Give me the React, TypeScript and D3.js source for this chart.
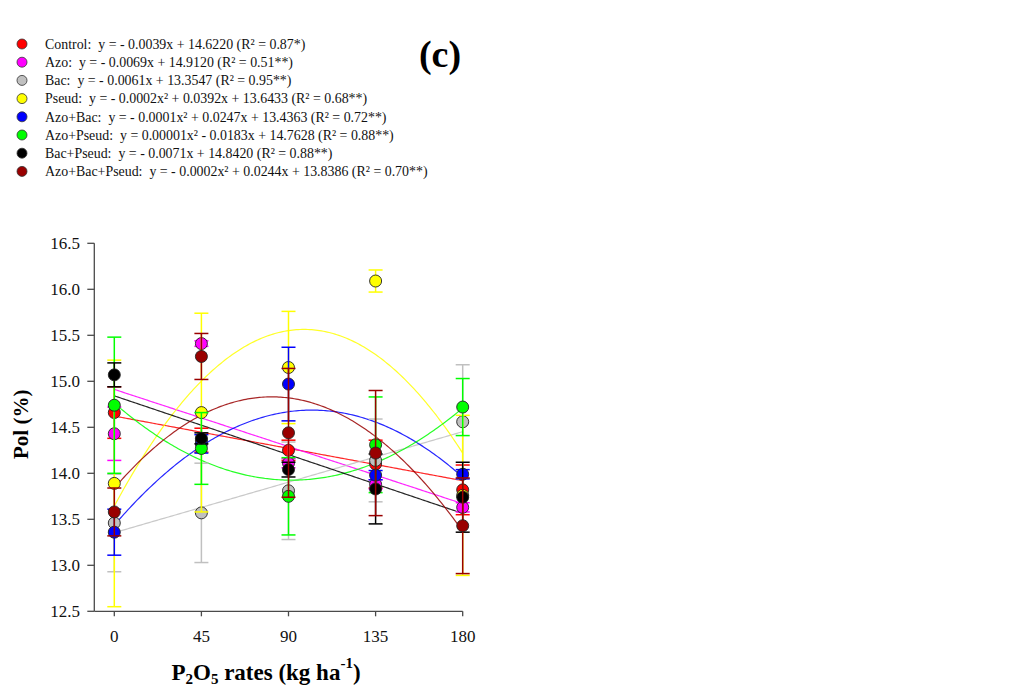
import React from "react";
import * as d3 from "d3";

const rates = [0, 45, 90, 135, 180];
const yTicks = [12.5, 13.0, 13.5, 14.0, 14.5, 15.0, 15.5, 16.0, 16.5];

const seriesNames = ["Control", "Azo", "Bac", "Pseud", "Azo+Bac", "Azo+Pseud", "Bac+Pseud", "Azo+Bac+Pseud"];
const seriesColors = ["#FF0000", "#FF00FF", "#C0C0C0", "#FFFF00", "#0000FF", "#00FF00", "#000000", "#990000"];
const legendEquations = [
  "y = - 0.0039x + 14.6220 (R² = 0.87*)",
  "y = - 0.0069x + 14.9120 (R² = 0.51**)",
  "y = - 0.0061x + 13.3547 (R² = 0.95**)",
  "y = - 0.0002x² + 0.0392x + 13.6433 (R² = 0.68**)",
  "y = - 0.0001x² + 0.0247x + 13.4363 (R² = 0.72**)",
  "y = 0.00001x² - 0.0183x + 14.7628 (R² = 0.88**)",
  "y = - 0.0071x + 14.8420 (R² = 0.88**)",
  "y = - 0.0002x² + 0.0244x + 13.8386 (R² = 0.70**)",
];

const meanControl = [14.66, 14.36, 14.25, 14.1, 13.82];
const meanAzo = [14.43, 15.41, 14.11, 13.88, 13.63];
const meanBac = [13.46, 13.57, 13.81, 14.14, 14.56];
const meanPseud = [13.89, 14.66, 15.15, 16.09, 13.76];
const meanAzoBac = [13.36, 14.32, 14.97, 13.98, 13.99];
const meanAzoPseud = [14.74, 14.27, 13.75, 14.31, 14.72];
const meanBacPseud = [15.07, 14.38, 14.04, 13.83, 13.74];
const meanAzoBacPseud = [13.58, 15.27, 14.44, 14.22, 13.43];

const errControl = [0.28, 0.13, 0.11, 0.26, 0.27];
const errAzo = [0.29, 0.03, 0.05, 0.05, 0.05];
const errBac = [0.53, 0.54, 0.53, 0.45, 0.62];
const errPseud = [1.34, 1.08, 0.61, 0.12, 0.87];
const errAzoBac = [0.25, 0.1, 0.4, 0.05, 0.05];
const errAzoPseud = [0.74, 0.39, 0.42, 0.52, 0.31];
const errBacPseud = [0.13, 0.06, 0.08, 0.38, 0.38];
const errAzoBacPseud = [0.26, 0.25, 0.7, 0.68, 0.52];

// fitted curve coefficients (y = a x² + b x + c) as drawn
const coefA = [0, 0, 0, -0.0002, -0.00012, 0.0001, 0, -0.00015];
const coefB = [-0.0039, -0.0069, 0.0061, 0.0392, 0.0245, -0.0183, -0.0071, 0.0244];
const coefC = [14.622, 14.912, 13.3547, 13.6433, 13.4363, 14.7628, 14.842, 13.8386];

const means = [meanControl, meanAzo, meanBac, meanPseud, meanAzoBac, meanAzoPseud, meanBacPseud, meanAzoBacPseud];
const errs = [errControl, errAzo, errBac, errPseud, errAzoBac, errAzoPseud, errBacPseud, errAzoBacPseud];

const FONT = "'Liberation Serif', 'Times New Roman', serif";

export default function App() {
  const x = d3.scaleLinear().domain([0, 180]).range([114.3, 462.7]);
  const y = d3.scaleLinear().domain([12.5, 16.5]).range([611.3, 243.3]);
  const axisX0 = 94.3;
  const axisColor = "#4a4a4a";
  const xs = d3.range(0, 180.5, 1);

  return (
    <svg
      width={1017}
      height={688}
      style={{ position: "absolute", left: 0, top: 0, background: "#fff" }}
      fontFamily={FONT}
    >
      {/* legend */}
      {seriesNames.map((name, i) => (
        <g key={name} transform={`translate(0, ${44 + i * 18.2})`}>
          <circle cx={22} cy={0} r={5} fill={seriesColors[i]} stroke="#333" strokeWidth={0.8} />
          <text x={45} y={4.7} fontSize={13.9} fill="#111" style={{ whiteSpace: "pre" }}>
            {`${name}:  ${legendEquations[i]}`}
          </text>
        </g>
      ))}
      <text x={440} y={67} fontSize={38} fontWeight="bold" textAnchor="middle" fill="#000">
        (c)
      </text>

      {/* axes */}
      <line x1={axisX0} x2={axisX0} y1={y(16.5)} y2={y(12.5)} stroke={axisColor} strokeWidth={1.3} />
      <line x1={axisX0} x2={x(180)} y1={y(12.5)} y2={y(12.5)} stroke={axisColor} strokeWidth={1.3} />
      {yTicks.map((t) => (
        <g key={t}>
          <line x1={axisX0 - 7} x2={axisX0} y1={y(t)} y2={y(t)} stroke={axisColor} strokeWidth={1.3} />
          <text x={80} y={y(t) + 6} fontSize={17} textAnchor="end" fill="#111">
            {t.toFixed(1)}
          </text>
        </g>
      ))}
      {rates.map((r) => (
        <g key={r}>
          <line x1={x(r)} x2={x(r)} y1={y(12.5)} y2={y(12.5) + 5} stroke={axisColor} strokeWidth={1.3} />
          <text x={x(r)} y={642} fontSize={17} textAnchor="middle" fill="#111">
            {r}
          </text>
        </g>
      ))}
      <text
        transform={`translate(28, ${y(14.5) - 3}) rotate(-90)`}
        fontSize={21}
        fontWeight="bold"
        textAnchor="middle"
        fill="#000"
      >
        Pol (%)
      </text>
      <text x={266} y={680} fontSize={23} fontWeight="bold" textAnchor="middle" fill="#000">
        P<tspan fontSize={15} dy={4}>2</tspan>
        <tspan dy={-4}>O</tspan>
        <tspan fontSize={15} dy={4}>5</tspan>
        <tspan dy={-4}> rates (kg ha</tspan>
        <tspan fontSize={15} dy={-12}>-1</tspan>
        <tspan dy={12}>)</tspan>
      </text>

      {/* regression curves */}
      {seriesNames.map((name, i) => {
        const path = d3
          .line<number>()
          .x((d) => x(d))
          .y((d) => y(coefA[i] * d * d + coefB[i] * d + coefC[i]))(xs);
        return (
          <path key={name} d={path || ""} fill="none" stroke={seriesColors[i]} strokeWidth={1.2} opacity={0.85} />
        );
      })}

      {/* error bars + points */}
      {seriesNames.map((name, i) => (
        <g key={name}>
          {rates.map((r, j) => {
            const m = means[i][j];
            const e = errs[i][j];
            const cx = x(r);
            return (
              <g key={r}>
                <line x1={cx} x2={cx} y1={y(m + e)} y2={y(m - e)} stroke={seriesColors[i]} strokeWidth={1.5} />
                <line x1={cx - 7} x2={cx + 7} y1={y(m + e)} y2={y(m + e)} stroke={seriesColors[i]} strokeWidth={1.5} />
                <line x1={cx - 7} x2={cx + 7} y1={y(m - e)} y2={y(m - e)} stroke={seriesColors[i]} strokeWidth={1.5} />
              </g>
            );
          })}
          {rates.map((r, j) => (
            <circle
              key={"c" + r}
              cx={x(r)}
              cy={y(means[i][j])}
              r={6}
              fill={seriesColors[i]}
              stroke="#222"
              strokeWidth={0.9}
            />
          ))}
        </g>
      ))}
    </svg>
  );
}
